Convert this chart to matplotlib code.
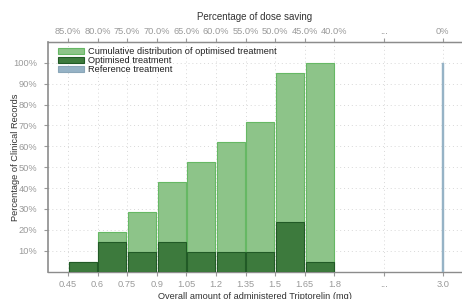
import matplotlib
matplotlib.use("Agg")
import matplotlib.pyplot as plt
from matplotlib.patches import Patch

plt.rcParams['font.family'] = ['Liberation Sans', 'DejaVu Sans']

# Data
bin_edges = [0.45, 0.6, 0.75, 0.9, 1.05, 1.2, 1.35, 1.5, 1.65]
optimised_pct = [4.76, 14.29, 9.52, 14.29, 9.52, 9.52, 9.52, 23.81, 4.76]
cumulative_pct = [4.76, 19.05, 28.57, 42.86, 52.38, 61.90, 71.43, 95.24, 100.0]
reference_pos = 2.35          # compressed position of the 3.0 mg dose
reference_pct = 100.0
bottom_tick_pos = [0.45, 0.6, 0.75, 0.9, 1.05, 1.2, 1.35, 1.5, 1.65, 1.8, 2.05, 2.35]
bottom_tick_labels = ['0.45', '0.6', '0.75', '0.9', '1.05', '1.2', '1.35', '1.5', '1.65', '1.8', '...', '3.0']
top_tick_labels = ['85.0%', '80.0%', '75.0%', '70.0%', '65.0%', '60.0%', '55.0%', '50.0%', '45.0%', '40.0%', '...', '0%']
y_ticks = [10, 20, 30, 40, 50, 60, 70, 80, 90, 100]

light_fill = '#8dc489'
light_edge = '#66b864'
dark_fill = '#3d7a3d'
dark_edge = '#215a26'
ref_fill = '#96b3c6'
tick_col = '#9a9a9a'
spine_col = '#8c8c8c'
fs = 6.7

fig = plt.figure(figsize=(4.62, 2.99), dpi=100)
ax = fig.add_axes([0.104, 0.0916, 0.896, 0.768])

bw = 0.142
lefts = [b + 0.004 for b in bin_edges]
ax.bar(lefts, cumulative_pct, width=bw, align='edge', color=light_fill,
       edgecolor=light_edge, linewidth=0.8, zorder=2)
ax.bar(lefts, optimised_pct, width=bw, align='edge', color=dark_fill,
       edgecolor=dark_edge, linewidth=0.8, zorder=3)
ax.bar([reference_pos], [reference_pct], width=0.011, align='center',
       color=ref_fill, edgecolor=ref_fill, linewidth=0.3, zorder=3)

ax.set_xlim(0.349, 2.447)
ax.set_ylim(0, 110)

ax.set_xticks(bottom_tick_pos)
ax.set_xticklabels(bottom_tick_labels)
ax.set_yticks(y_ticks)
ax.set_yticklabels([f'{v}%' for v in y_ticks])

ax.grid(True, linestyle=(0, (1, 3)), color='#d8d8d8', linewidth=0.7, zorder=0)
ax.set_axisbelow(True)

ax.spines['right'].set_visible(False)
for s in ['left', 'bottom', 'top']:
    ax.spines[s].set_color(spine_col)
ax.spines['left'].set_linewidth(1.2)
ax.spines['bottom'].set_linewidth(1.0)
ax.spines['top'].set_linewidth(1.0)

ax.tick_params(axis='both', labelsize=fs, colors=tick_col, length=3, width=0.8)
ax.tick_params(axis='x', pad=3)
ax.tick_params(axis='y', pad=5)

ax.set_xlabel('Overall amount of administered Triptorelin (mg)', fontsize=fs,
              color='#333333')
ax.xaxis.set_label_coords(0.5, -0.088)
ax.set_ylabel('Percentage of Clinical Records', fontsize=fs, color='#333333')
ax.yaxis.set_label_coords(-0.068, 0.5)

ax2 = ax.twiny()
ax2.set_xlim(ax.get_xlim())
ax2.set_xticks(bottom_tick_pos)
ax2.set_xticklabels(top_tick_labels)
ax2.tick_params(axis='x', labelsize=fs, colors=tick_col, length=3, width=0.8, pad=1)
for s in ['right', 'left', 'bottom']:
    ax2.spines[s].set_visible(False)
ax2.spines['top'].set_color(spine_col)
ax2.set_xlabel('Percentage of dose saving', fontsize=fs + 0.3, color='#333333', labelpad=5)

handles = [Patch(facecolor=light_fill, edgecolor=light_edge, linewidth=0.8),
           Patch(facecolor=dark_fill, edgecolor=dark_edge, linewidth=0.8),
           Patch(facecolor=ref_fill, edgecolor='#8aa6b8', linewidth=0.8)]
labels = ['Cumulative distribution of optimised treatment', 'Optimised treatment',
          'Reference treatment']
leg = ax.legend(handles, labels, loc='upper left', frameon=False, fontsize=fs,
                handlelength=2.8, handleheight=0.55, labelspacing=0.0,
                handletextpad=0.5, borderaxespad=0.0,
                bbox_to_anchor=(0.014, 0.993))
for t in leg.get_texts():
    t.set_color('#222222')

fig.savefig('out.png', dpi=100)
